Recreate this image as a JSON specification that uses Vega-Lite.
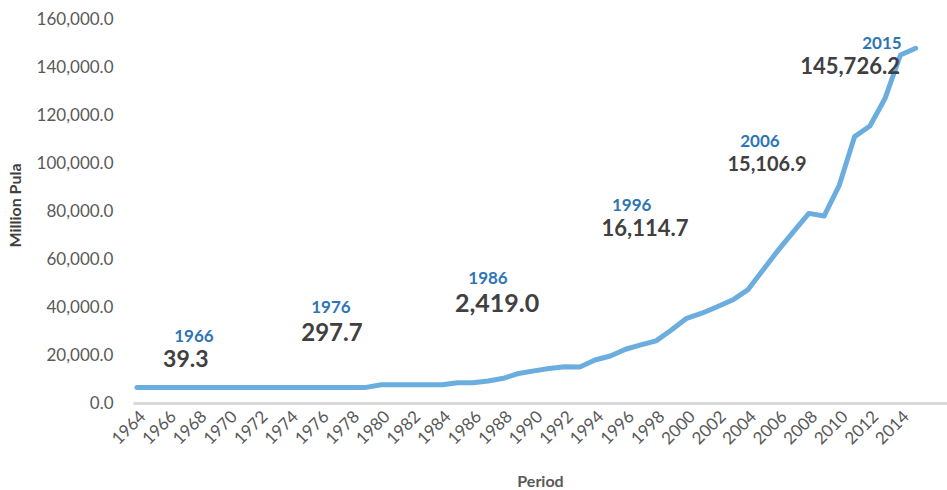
{
  "$schema": "https://vega.github.io/schema/vega-lite/v6.json",
  "autosize": {"type": "none"},
  "width": 814,
  "height": 384,
  "padding": {"left": 133, "top": 19, "right": 0, "bottom": 87},
  "config": {
    "view": {"stroke": null},
    "font": "Lato"
  },
  "datasets": {
    "series": [
      {"year": 1964, "value": 6500}, {"year": 1965, "value": 6500}, {"year": 1966, "value": 6500},
      {"year": 1967, "value": 6500}, {"year": 1968, "value": 6500}, {"year": 1969, "value": 6500},
      {"year": 1970, "value": 6500}, {"year": 1971, "value": 6500}, {"year": 1972, "value": 6500},
      {"year": 1973, "value": 6500}, {"year": 1974, "value": 6500}, {"year": 1975, "value": 6500},
      {"year": 1976, "value": 6500}, {"year": 1977, "value": 6500}, {"year": 1978, "value": 6500},
      {"year": 1979, "value": 6500}, {"year": 1980, "value": 7600}, {"year": 1981, "value": 7600},
      {"year": 1982, "value": 7600}, {"year": 1983, "value": 7600}, {"year": 1984, "value": 7600},
      {"year": 1985, "value": 8400}, {"year": 1986, "value": 8400}, {"year": 1987, "value": 9200},
      {"year": 1988, "value": 10300}, {"year": 1989, "value": 12300}, {"year": 1990, "value": 13400},
      {"year": 1991, "value": 14400}, {"year": 1992, "value": 15100}, {"year": 1993, "value": 15000},
      {"year": 1994, "value": 17900}, {"year": 1995, "value": 19600}, {"year": 1996, "value": 22400},
      {"year": 1997, "value": 24200}, {"year": 1998, "value": 25900}, {"year": 1999, "value": 30400},
      {"year": 2000, "value": 35300}, {"year": 2001, "value": 37400}, {"year": 2002, "value": 40100},
      {"year": 2003, "value": 42900}, {"year": 2004, "value": 47100}, {"year": 2005, "value": 55400},
      {"year": 2006, "value": 63700}, {"year": 2007, "value": 71400}, {"year": 2008, "value": 79000},
      {"year": 2009, "value": 77900}, {"year": 2010, "value": 90800}, {"year": 2011, "value": 111000},
      {"year": 2012, "value": 115400}, {"year": 2013, "value": 127000}, {"year": 2014, "value": 145000},
      {"year": 2015, "value": 147800}
    ],
    "notes": [
      {"year": "1966", "amount": "39.3", "yearX": 1967.73, "yearY": 27500, "amountX": 1967.2, "amountY": 17900},
      {"year": "1976", "amount": "297.7", "yearX": 1976.7, "yearY": 39600, "amountX": 1976.77, "amountY": 28700},
      {"year": "1986", "amount": "2,419.0", "yearX": 1986.99, "yearY": 51700, "amountX": 1987.58, "amountY": 41100},
      {"year": "1996", "amount": "16,114.7", "yearX": 1996.4, "yearY": 81900, "amountX": 1997.27, "amountY": 72500},
      {"year": "2006", "amount": "15,106.9", "yearX": 2004.8, "yearY": 108750, "amountX": 2005.26, "amountY": 99170},
      {"year": "2015", "amount": "145,726.2", "yearX": 2012.79, "yearY": 149400, "amountX": 2010.7, "amountY": 140000}
    ]
  },
  "layer": [
    {
      "data": {"name": "series"},
      "mark": {"type": "line", "color": "#6CADDF", "strokeWidth": 5, "strokeJoin": "round", "strokeCap": "round"},
      "encoding": {
        "x": {
          "field": "year", "type": "quantitative",
          "scale": {"domain": [1963.74, 2017.05], "nice": false, "zero": false},
          "axis": {
            "values": [1964,1966,1968,1970,1972,1974,1976,1978,1980,1982,1984,1986,1988,1990,1992,1994,1996,1998,2000,2002,2004,2006,2008,2010,2012,2014],
            "tickCount": 100,
            "format": "d",
            "grid": false, "ticks": false, "labelOverlap": false,
            "domainColor": "#D9D9D9", "domainWidth": 3,
            "labelAngle": -45, "labelFontSize": 17, "labelColor": "#595959", "labelPadding": 5,
            "title": "Period", "titleFontSize": 16, "titleFontWeight": "bold", "titleColor": "#595959",
            "titleY": 78, "titleBaseline": "middle"
          }
        },
        "y": {
          "field": "value", "type": "quantitative",
          "scale": {"domain": [0, 160000], "nice": false},
          "axis": {
            "values": [0,20000,40000,60000,80000,100000,120000,140000,160000],
            "tickCount": 20,
            "format": ",.1f",
            "grid": false, "ticks": false, "domain": false, "labelOverlap": false,
            "labelFontSize": 17, "labelColor": "#595959", "labelPadding": 20,
            "title": "Million Pula", "titleFontSize": 16, "titleFontWeight": "bold", "titleColor": "#404040",
            "titleX": -110, "titleY": 186, "titleBaseline": "bottom", "titleAlign": "center"
          }
        }
      }
    },
    {
      "data": {"name": "notes"},
      "mark": {"type": "text", "color": "#2E75B6", "fontSize": 17, "fontWeight": "bold", "baseline": "middle", "align": "center"},
      "encoding": {
        "x": {"field": "yearX", "type": "quantitative"},
        "y": {"field": "yearY", "type": "quantitative"},
        "text": {"field": "year"}
      }
    },
    {
      "data": {"name": "notes"},
      "mark": {"type": "text", "color": "#404040", "fontWeight": "bold", "baseline": "middle", "align": "center"},
      "encoding": {
        "x": {"field": "amountX", "type": "quantitative"},
        "y": {"field": "amountY", "type": "quantitative"},
        "text": {"field": "amount"},
        "size": {
          "condition": [
            {"test": "datum.year === '2006'", "value": 20},
            {"test": "datum.year === '1966'", "value": 23},
            {"test": "datum.year === '1976'", "value": 24},
            {"test": "datum.year === '1986'", "value": 25}
          ],
          "value": 22
        }
      }
    }
  ]
}
